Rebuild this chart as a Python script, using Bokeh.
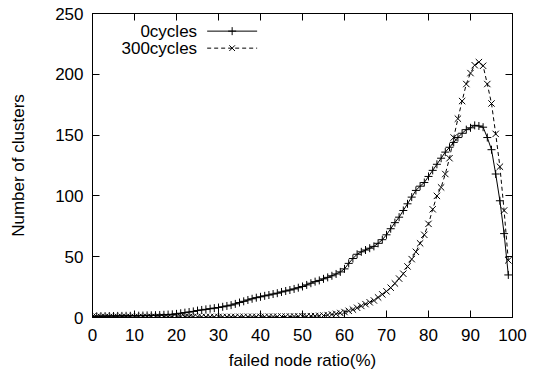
from bokeh.plotting import figure
from bokeh.models import LinearAxis, FixedTicker, Range1d
from bokeh.embed import file_html
from bokeh.resources import INLINE
from bokeh.core.properties import value

# ---------------- data ----------------
ratio = list(range(100))

cycles_0 = [1.0, 1.0, 1.1, 1.1, 1.2, 1.2, 1.3, 1.3, 1.4, 1.4,
            1.5, 1.5, 1.6, 1.7, 1.8, 1.9, 2.0, 2.2, 2.4, 2.6,
            3.0, 3.5, 4.0, 4.5, 5.0, 5.7, 6.2, 6.7, 7.2, 7.7,
            8.2, 8.8, 9.5, 10.2, 11.2, 12.3, 13.3, 14.4, 15.4, 16.3,
            17.0, 17.8, 18.5, 19.3, 20.0, 21.0, 21.8, 22.6, 23.5, 24.5,
            25.5, 26.8, 28.2, 29.5, 30.5, 31.8, 33.0, 34.3, 35.8, 37.5,
            40.0, 44.5, 48.5, 52.0, 54.0, 55.5, 57.0, 58.5, 61.0, 64.0,
            68.0, 73.0, 78.0, 82.5, 88.0, 93.5, 99.0, 104.5, 108.0, 111.0,
            116.0, 121.0, 126.0, 131.0, 136.0, 140.0, 144.0, 148.0, 151.5, 154.5,
            156.0, 158.0, 157.5, 156.5, 148.0, 138.0, 118.0, 96.0, 69.0, 35.0]

cycles_300 = [0.8, 0.6, 0.5, 0.5, 0.5, 0.5, 0.5, 0.5, 0.5, 0.5,
              0.5, 0.5, 0.5, 0.5, 0.5, 0.5, 0.5, 0.5, 0.5, 0.5,
              0.5, 0.5, 0.5, 0.5, 0.5, 0.5, 0.5, 0.5, 0.5, 0.5,
              0.5, 0.5, 0.5, 0.5, 0.5, 0.6, 0.6, 0.6, 0.6, 0.6,
              0.6, 0.6, 0.7, 0.7, 0.7, 0.8, 0.8, 0.8, 0.9, 0.9,
              1.0, 1.0, 1.1, 1.2, 1.4, 1.6, 2.0, 2.5, 3.0, 3.7,
              4.5, 5.5, 6.5, 8.0, 9.5, 11.0, 12.5, 14.0, 16.5, 19.0,
              21.5, 24.5, 28.0, 32.0, 36.0, 42.0, 48.0, 54.0, 61.0, 68.0,
              77.0, 89.0, 100.0, 107.0, 118.0, 131.0, 148.0, 163.5, 178.0, 192.0,
              201.0, 207.5, 210.0, 207.0, 192.0, 176.0, 151.0, 124.0, 88.0, 47.0]

series_names = ["0cycles", "300cycles"]
x_ticks = [0, 10, 20, 30, 40, 50, 60, 70, 80, 90, 100]
y_ticks = [0, 50, 100, 150, 200, 250]
x_label = "failed node ratio(%)"
y_label = "Number of clusters"

# ---------------- figure ----------------
FONT = "Liberation Sans"
FS = "17px"

p = figure(width=539, height=376, output_backend="svg", toolbar_location=None,
           x_range=Range1d(0, 100), y_range=Range1d(0, 250),
           min_border_left=92, min_border_right=27, min_border_top=13,
           min_border_bottom=59)
p.background_fill_color = "white"
p.border_fill_color = "white"
p.outline_line_color = "black"
p.outline_line_width = 1
p.xgrid.visible = False
p.ygrid.visible = False


def style_axis(ax, ticks, show_labels=True):
    ax.ticker = FixedTicker(ticks=ticks)
    ax.major_tick_in = 7
    ax.major_tick_out = 0
    ax.minor_tick_line_color = None
    ax.axis_line_color = "black"
    ax.major_tick_line_color = "black"
    ax.major_label_text_font = FONT
    if show_labels:
        ax.major_label_text_font_size = FS
        ax.major_label_text_color = "black"
    else:
        ax.major_label_overrides = {t: "" for t in ticks}
        ax.major_label_text_color = None
        ax.major_label_text_font_size = "1px"
        ax.major_label_standoff = 0


style_axis(p.xaxis[0], x_ticks)
style_axis(p.yaxis[0], y_ticks)
p.xaxis[0].major_label_standoff = 11
p.yaxis[0].major_label_standoff = 9
p.xaxis[0].axis_label = x_label
p.yaxis[0].axis_label = y_label
for ax in (p.xaxis[0], p.yaxis[0]):
    ax.axis_label_text_font = FONT
    ax.axis_label_text_font_size = FS
    ax.axis_label_text_font_style = "normal"
    ax.axis_label_text_color = "black"
p.xaxis[0].axis_label_standoff = 7
p.yaxis[0].axis_label_standoff = 24

top_ax = LinearAxis()
style_axis(top_ax, x_ticks, show_labels=False)
p.add_layout(top_ax, "above")
right_ax = LinearAxis()
style_axis(right_ax, y_ticks, show_labels=False)
p.add_layout(right_ax, "right")

# ---------------- series ----------------
p.line(ratio, cycles_0, line_color="black", line_width=1)
p.scatter(ratio, cycles_0, marker="cross", size=8, line_color="black",
          line_width=1)
p.line(ratio, cycles_300, line_color="black", line_width=1, line_dash="4 3")
p.scatter(ratio, cycles_300, marker="x", size=9, line_color="black",
          line_width=1)

# ---------------- legend (gnuplot style: text then sample) ----------------
xr = p.x_range.end - p.x_range.start
yr = p.y_range.end - p.y_range.start
leg_text_x = p.x_range.start + 0.249 * xr
leg_line_x0 = p.x_range.start + 0.273 * xr
leg_line_x1 = p.x_range.start + 0.392 * xr
leg_mark_x = (leg_line_x0 + leg_line_x1) / 2
leg_rows = [p.y_range.start + 0.942 * yr, p.y_range.start + 0.886 * yr]
dashes = ["solid", "4 3"]
markers = ["cross", "x"]
for name, yrow, dash, mk in zip(series_names, leg_rows, dashes, markers):
    p.text(x=[leg_text_x], y=[yrow], text=[name], text_align="right",
           text_baseline="middle", text_font=value(FONT), text_font_size=FS,
           text_color="black")
    p.line([leg_line_x0, leg_line_x1], [yrow, yrow], line_color="black",
           line_width=1, line_dash=dash)
    p.scatter([leg_mark_x], [yrow], marker=mk, size=8, line_color="black",
              line_width=1)

open("out.html", "w").write(file_html(p, INLINE))
